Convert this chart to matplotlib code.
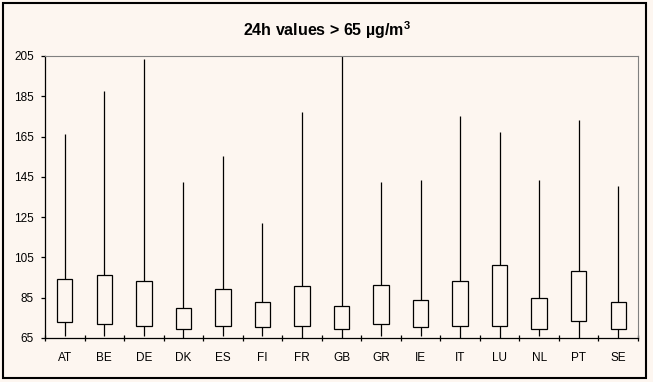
import matplotlib
matplotlib.use("Agg")
import matplotlib.pyplot as plt
from matplotlib.patches import Rectangle
import numpy as np

plt.rcParams['font.family'] = ['Liberation Sans', 'DejaVu Sans']

# data (µg/m³)
COUNTRIES = ["AT", "BE", "DE", "DK", "ES", "FI", "FR", "GB", "GR", "IE",
             "IT", "LU", "NL", "PT", "SE"]
MINS = [66.2, 66.2, 66.2, 65.0, 66.2, 66.2, 65.0, 65.0, 66.2, 66.2,
        65.0, 65.0, 66.2, 65.0, 65.0]
Q1 = [73.1, 72.1, 71.1, 69.3, 71.1, 70.3, 71.1, 69.3, 72.1, 70.3,
      71.1, 71.1, 69.3, 73.3, 69.3]
Q3 = [94.1, 96.1, 93.1, 79.7, 89.1, 82.7, 90.6, 80.7, 91.1, 83.7,
      93.1, 101.0, 84.7, 98.1, 82.7]
MAXS = [166.2, 187.5, 203.3, 142.4, 155.2, 122.0, 177.1, 208.0, 142.4, 143.3,
        175.1, 167.1, 143.3, 173.1, 140.4]
Y_TICKS = [65, 85, 105, 125, 145, 165, 185, 205]

BG = "#FDF6F0"
W, H = 653, 382

fig = plt.figure(figsize=(W / 100, H / 100), dpi=100, facecolor=BG)
ax = fig.add_axes([45 / W, 1 - 338 / H, (638 - 45) / W, (338 - 56) / H])
ax.set_facecolor(BG)

x = np.arange(len(COUNTRIES))
q1, q3 = np.array(Q1), np.array(Q3)
ax.vlines(x, MINS, q1, color="black", lw=0.9)
ax.vlines(x, q3, MAXS, color="black", lw=0.9)
ax.bar(x, q3 - q1, bottom=q1, width=0.39, facecolor=BG,
       edgecolor="black", linewidth=0.9, zorder=3)

ax.set_xlim(-0.5, len(COUNTRIES) - 0.5)
ax.set_ylim(65, 205)
ax.set_yticks(Y_TICKS)
ax.set_xticks(x)
ax.set_xticklabels(COUNTRIES)
ax.set_xticks(np.arange(-0.5, len(COUNTRIES)), minor=True)
ax.tick_params(axis="x", which="major", length=0, pad=10, labelsize=8.5)
ax.tick_params(axis="x", which="minor", direction="inout", length=5, width=0.9)
ax.tick_params(axis="y", length=3, width=0.9, pad=5, labelsize=8.5)

for side in ("top", "right"):
    ax.spines[side].set_color("#808080")
for side in ("left", "bottom"):
    ax.spines[side].set_color("black")
    ax.spines[side].set_linewidth(0.9)

fig.text(0.5, 1 - 30 / H, r"24h values > 65 µg/m$^\mathregular{3}$", ha="center",
         va="center", fontsize=11.5, fontweight="bold")

fig.patches.append(Rectangle((3 / W, 4 / H), 643 / W, 375 / H,
                             transform=fig.transFigure, fill=False,
                             edgecolor="black", linewidth=1.5))

fig.savefig("out.png", dpi=100, facecolor=BG)
